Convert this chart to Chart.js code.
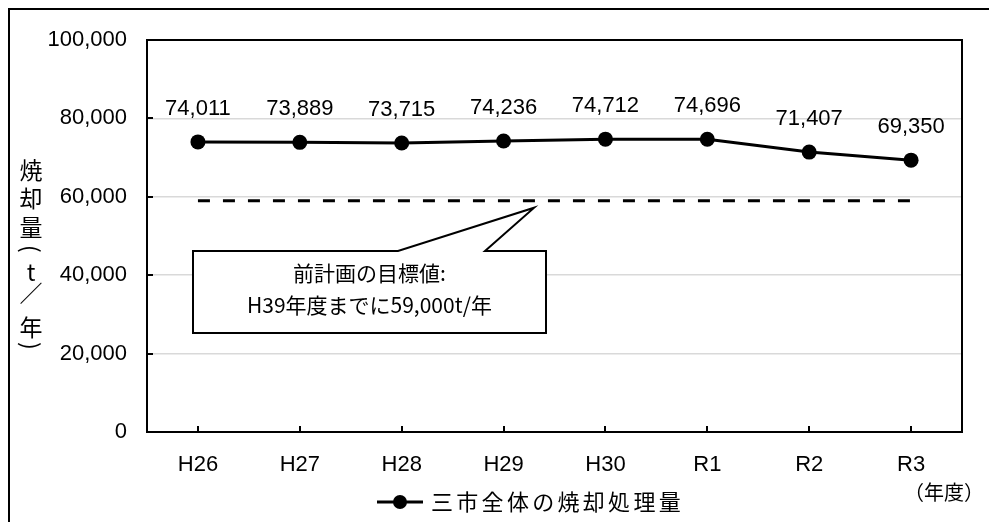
<!DOCTYPE html>
<html>
<head>
<meta charset="utf-8">
<script src="https://cdn.jsdelivr.net/npm/chart.js@4"></script>
<style>
  html, body { margin: 0; padding: 0; background: #fff; }
  #wrap { width: 989px; height: 522px; position: relative; }
</style>
</head>
<body>
<div id="wrap"><canvas id="grafico" width="989" height="522"></canvas></div>
<script>
// datos del gráfico
const anios = ['H26', 'H27', 'H28', 'H29', 'H30', 'R1', 'R2', 'R3'];
const incineracion = [74011, 73889, 73715, 74236, 74712, 74696, 71407, 69350];
const metaAnterior = [59000, 59000, 59000, 59000, 59000, 59000, 59000, 59000];
const ticksY = [0, 20000, 40000, 60000, 80000, 100000];

const serieNombre = '三市全体の焼却処理量';
const tituloY = ['焼', '却', '量', '(', 't', '／', '年', ')'];
const notaLinea1 = '前計画の目標値:';
const notaLinea2 = 'H39年度までに59,000t/年';
const unidadX = '（年度）';

const fuenteNum = '"Liberation Sans", Arial, sans-serif';
const fuenteJp = '"Noto Sans CJK JP", sans-serif';

function fmt(v) {
    return v.toLocaleString('en-US');
}

// dibuja marco, bordes, etiquetas y la nota
const extras = {
    id: 'extras',
    beforeDatasetsDraw(chart) {
        const ctx = chart.ctx;
        const a = chart.chartArea;
        const y = chart.scales.y;
        const x = chart.scales.x;
        ctx.save();
        ctx.strokeStyle = '#000';
        ctx.lineWidth = 2;
        // ticks hacia adentro
        ticksY.forEach(function (v) {
            const py = Math.round(y.getPixelForValue(v));
            ctx.beginPath();
            ctx.moveTo(a.left, py);
            ctx.lineTo(a.left + 6, py);
            ctx.stroke();
        });
        anios.forEach(function (c, i) {
            const px = Math.round(x.getPixelForValue(i));
            ctx.beginPath();
            ctx.moveTo(px, a.bottom);
            ctx.lineTo(px, a.bottom - 6);
            ctx.stroke();
        });
        ctx.strokeRect(a.left, a.top, a.right - a.left, a.bottom - a.top);
        ctx.restore();
    },
    afterDatasetsDraw(chart) {
        const ctx = chart.ctx;
        const y = chart.scales.y;
        const x = chart.scales.x;
        const meta = chart.getDatasetMeta(0);
        ctx.save();
        ctx.fillStyle = '#000';

        // marco exterior (solo arriba e izquierda visibles)
        ctx.strokeStyle = '#000';
        ctx.lineWidth = 2;
        ctx.beginPath();
        ctx.moveTo(9, 530);
        ctx.lineTo(9, 9);
        ctx.lineTo(995, 9);
        ctx.stroke();

        // etiquetas de datos
        ctx.font = '22px ' + fuenteNum;
        ctx.textAlign = 'center';
        ctx.textBaseline = 'middle';
        meta.data.forEach(function (pt, i) {
            ctx.fillText(fmt(incineracion[i]), pt.x, pt.y - 33);
        });

        // nota con flecha
        const tipX = x.getPixelForValue(3.3);
        const tipY = y.getPixelForValue(metaAnterior[0]) + 7;
        const bx0 = 193, bx1 = 546, by0 = 251, by1 = 333;
        ctx.beginPath();
        ctx.moveTo(bx0, by0);
        ctx.lineTo(398, by0);
        ctx.lineTo(tipX, tipY);
        ctx.lineTo(485, by0);
        ctx.lineTo(bx1, by0);
        ctx.lineTo(bx1, by1);
        ctx.lineTo(bx0, by1);
        ctx.closePath();
        ctx.fillStyle = '#fff';
        ctx.fill();
        ctx.lineWidth = 2;
        ctx.stroke();
        ctx.fillStyle = '#000';
        ctx.font = '21px ' + fuenteJp;
        ctx.fillText(notaLinea1, (bx0 + bx1) / 2, 273);
        ctx.fillText(notaLinea2, (bx0 + bx1) / 2, 305);

        // título del eje Y (vertical)
        ctx.font = '23px ' + fuenteJp;
        const posY = [170, 198, 227, 249, 272, 293, 327, 346];
        tituloY.forEach(function (ch, i) {
            if (ch === '(' || ch === ')') {
                ctx.save();
                ctx.translate(31, posY[i]);
                ctx.rotate(Math.PI / 2);
                ctx.fillText(ch, 0, 0);
                ctx.restore();
            } else {
                ctx.fillText(ch, 31, posY[i]);
            }
        });

        // unidad del eje X
        ctx.font = '20px ' + fuenteJp;
        ctx.textAlign = 'left';
        ctx.fillText(unidadX, 904, 492);

        // leyenda
        ctx.lineWidth = 3;
        ctx.beginPath();
        ctx.moveTo(377, 502);
        ctx.lineTo(423, 502);
        ctx.stroke();
        ctx.beginPath();
        ctx.arc(400, 502, 7, 0, Math.PI * 2);
        ctx.fill();
        ctx.font = '22px ' + fuenteJp;
        ctx.textAlign = 'left';
        for (let i = 0; i < serieNombre.length; i++) {
            ctx.fillText(serieNombre[i], 431 + i * 25.3, 502);
        }
        ctx.restore();
    }
};

const ctx = document.getElementById('grafico').getContext('2d');
const grafico = new Chart(ctx, {
    type: 'line',
    data: {
        labels: anios,
        datasets: [
            {
                label: serieNombre,
                data: incineracion,
                borderColor: '#000',
                backgroundColor: '#000',
                borderWidth: 3,
                pointRadius: 7.5,
                pointHoverRadius: 7.5,
                pointBackgroundColor: '#000',
                pointBorderWidth: 0,
                tension: 0
            },
            {
                label: '目標値',
                data: metaAnterior,
                borderColor: '#000',
                borderWidth: 3,
                borderDash: [12, 13],
                pointRadius: 0,
                tension: 0
            }
        ]
    },
    options: {
        responsive: false,
        animation: false,
        events: [],
        layout: {
            padding: { left: 40, top: 40, right: 27, bottom: 0 }
        },
        plugins: {
            legend: { display: false },
            tooltip: { enabled: false }
        },
        scales: {
            x: {
                offset: true,
                grid: { display: false, drawTicks: false },
                border: { display: false },
                ticks: {
                    color: '#000',
                    padding: 20,
                    font: { family: fuenteNum, size: 22 }
                },
                afterFit: function (s) { s.height = 90; }
            },
            y: {
                min: 0,
                max: 100000,
                grid: {
                    drawTicks: false,
                    color: function (c) {
                        const v = c.tick ? c.tick.value : 0;
                        return (v === 0 || v === 100000) ? 'rgba(0,0,0,0)' : '#d9d9d9';
                    },
                    lineWidth: 1.5
                },
                border: { display: false },
                afterBuildTicks: function (s) {
                    s.ticks = ticksY.map(function (v) { return { value: v }; });
                },
                ticks: {
                    color: '#000',
                    padding: 20,
                    font: { family: fuenteNum, size: 22 },
                    callback: function (v) { return fmt(v); }
                },
                afterFit: function (s) { s.width = 107; }
            }
        }
    },
    plugins: [extras]
});
</script>
</body>
</html>
